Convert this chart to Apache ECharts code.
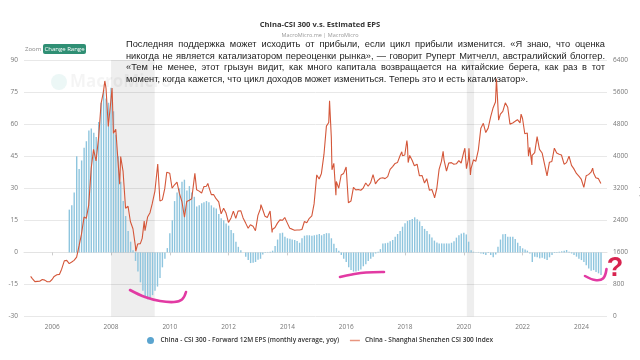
<!DOCTYPE html>
<html><head><meta charset="utf-8">
<script src="https://cdn.jsdelivr.net/npm/echarts@6/dist/echarts.min.js"></script>
<style>html,body{margin:0;padding:0;background:#fff}#c{width:640px;height:360px}</style>
</head><body><div id="c"></div>
<script>
// ---------- DATA ----------
const titleText = 'China-CSI 300 v.s. Estimated EPS';
const subtitleText = 'MacroMicro.me | MacroMicro';
const barName = 'China - CSI 300 - Forward 12M EPS (monthly average, yoy)';
const lineName = 'China - Shanghai Shenzhen CSI 300 Index';
const yearTicks = [2006, 2008, 2010, 2012, 2014, 2016, 2018, 2020, 2022, 2024];
const recessions = [['2008-01-01', '2009-06-28'], ['2020-02-07', '2020-05-08']];

// monthly EPS yoy (%), first month = 2006-08
const epsFirstMonth = '2006-08';
const epsYoY = [
  20, 22, 28, 45, 39,
  43, 49, 52, 57, 58, 56, 54, 61, 70, 76, 72, 70,
  77, 66, 55, 45, 33, 24, 17, 10, 5, 1, -4, -9,
  -14, -18, -21, -22, -21.5, -20, -18, -16, -12, -7, -3, 2,
  9, 15, 24, 28, 30, 33, 34, 29, 31, 28, 26, 21.5,
  22, 23, 23.5, 24, 23.5, 22, 21, 20.5, 18, 16, 15, 13.5,
  12.5, 10.5, 9, 5, 2.6, 1, 0, -2, -3.6, -5, -4.8, -4.5,
  -3.5, -3, -1, -0.3, 0.2, 0.3, 0.8, 3, 6, 9, 9.2, 7.3,
  6.6, 6.4, 6, 5.8, 5.3, 4.5, 6.6, 7.8, 8, 8, 7.8, 8,
  8.2, 8.6, 8, 8.6, 9, 9, 6.6, 4, 2, 0.8, -1.2, -3,
  -4.5, -7, -8.3, -9, -9, -8.6, -8, -6.5, -5.5, -4, -3, -2,
  -0.5, 0.3, 1.5, 4.2, 4.3, 4.5, 5.2, 5.8, 7.3, 8.6, 10, 12,
  13.6, 14.7, 15.2, 15.6, 16.4, 15.5, 14.5, 12.3, 11, 10, 8.5, 7,
  5.5, 4.6, 4.2, 4.2, 4.2, 4.2, 4.2, 4.5, 5.2, 6.9, 8, 8.8,
  9.2, 8.4, 5, 1, 0.3, -0.2, 0.2, -0.5, -0.8, -1.2, -0.3, -1.2,
  -2.3, -1, 2.6, 6, 8.5, 8.6, 7.3, 7.3, 7.3, 6.2, 4.5, 3,
  1.9, 1.4, 0.8, -0.5, -4.5, -2, -2.3, -2.8, -2.5, -3, -3.6, -2.3,
  -1.2, -0.3, -0.3, 0.3, 0.5, 0.8, 1.1, 0.3, -0.5, -1.2, -2, -3,
  -3.6, -4.5, -6, -7.5, -8.6, -8.3, -9.2, -9.8, -10.6
];

// CSI 300 index level
const csiDates = [
  '2005-04-08','2005-04-29','2005-05-31','2005-06-30','2005-07-29','2005-08-31','2005-09-30','2005-10-31','2005-11-30','2005-12-30',
  '2006-01-25','2006-02-28','2006-03-31','2006-04-28','2006-05-31','2006-06-30','2006-07-31','2006-08-31','2006-09-29','2006-10-31','2006-11-30','2006-12-29',
  '2007-01-31','2007-02-28','2007-03-30','2007-04-30','2007-05-29','2007-06-29','2007-07-31','2007-08-31','2007-09-28','2007-10-16','2007-10-31','2007-11-28','2007-12-28',
  '2008-01-14','2008-01-31','2008-02-29','2008-03-31','2008-04-18','2008-04-30','2008-05-30','2008-06-30','2008-07-31','2008-08-29','2008-09-30','2008-10-31','2008-11-04','2008-11-28','2008-12-31',
  '2009-01-23','2009-02-17','2009-02-27','2009-03-31','2009-04-30','2009-05-27','2009-06-30','2009-08-04','2009-08-31','2009-09-30','2009-10-30','2009-11-24','2009-12-31',
  '2010-01-29','2010-02-26','2010-03-31','2010-04-30','2010-05-31','2010-07-02','2010-07-30','2010-08-31','2010-09-30','2010-11-08','2010-11-30','2010-12-31',
  '2011-01-31','2011-02-28','2011-03-31','2011-04-18','2011-04-29','2011-05-31','2011-06-30','2011-07-29','2011-08-31','2011-09-30','2011-10-31','2011-11-30','2011-12-30',
  '2012-01-31','2012-02-29','2012-03-30','2012-04-27','2012-05-31','2012-06-29','2012-07-31','2012-08-31','2012-09-28','2012-10-31','2012-11-30','2012-12-31',
  '2013-01-31','2013-02-06','2013-02-28','2013-03-29','2013-04-26','2013-05-31','2013-06-25','2013-06-28','2013-07-31','2013-08-30','2013-09-30','2013-10-31','2013-11-29','2013-12-31',
  '2014-01-30','2014-02-28','2014-03-31','2014-04-30','2014-05-30','2014-06-30','2014-07-31','2014-08-29','2014-09-30','2014-10-31','2014-11-28','2014-12-31',
  '2015-01-30','2015-02-27','2015-03-31','2015-04-30','2015-05-29','2015-06-08','2015-06-30','2015-07-08','2015-07-31','2015-08-26','2015-08-31','2015-09-30','2015-10-30','2015-11-30','2015-12-31',
  '2016-01-28','2016-02-29','2016-03-31','2016-04-29','2016-05-31','2016-06-30','2016-07-29','2016-08-31','2016-09-30','2016-10-31','2016-11-30','2016-12-30',
  '2017-01-26','2017-02-28','2017-03-31','2017-04-28','2017-05-31','2017-06-30','2017-07-31','2017-08-31','2017-09-29','2017-10-31','2017-11-22','2017-11-30','2017-12-29',
  '2018-01-24','2018-01-31','2018-02-09','2018-02-28','2018-03-30','2018-04-27','2018-05-31','2018-06-29','2018-07-31','2018-08-31','2018-09-28','2018-10-31','2018-11-30','2018-12-28',
  '2019-01-03','2019-01-31','2019-02-28','2019-03-29','2019-04-19','2019-04-30','2019-05-31','2019-06-28','2019-07-31','2019-08-30','2019-09-30','2019-10-31','2019-11-29','2019-12-31',
  '2020-01-14','2020-02-03','2020-02-28','2020-03-05','2020-03-23','2020-03-31','2020-04-30','2020-05-29','2020-06-30','2020-07-31','2020-08-31','2020-09-30','2020-10-30','2020-11-30','2020-12-31',
  '2021-01-29','2021-02-10','2021-02-26','2021-03-09','2021-03-31','2021-04-30','2021-05-31','2021-06-30','2021-07-28','2021-08-31','2021-09-30','2021-10-29','2021-11-30','2021-12-13','2021-12-31',
  '2022-01-28','2022-02-28','2022-03-15','2022-03-31','2022-04-26','2022-04-29','2022-05-31','2022-06-30','2022-07-29','2022-08-31','2022-09-30','2022-10-31','2022-11-30','2022-12-30',
  '2023-01-30','2023-02-28','2023-03-31','2023-04-28','2023-05-31','2023-06-30','2023-07-31','2023-08-31','2023-09-28','2023-10-31','2023-11-30','2023-12-29',
  '2024-01-31','2024-02-05','2024-02-29','2024-03-29','2024-04-30','2024-05-20','2024-05-31','2024-06-28','2024-07-31','2024-08-30'
];
const csiValues = [
  1000, 946, 870, 876, 880, 925, 908, 867, 866, 923,
  1000, 1040, 1050, 1180, 1390, 1400, 1320, 1360, 1400, 1480, 1760, 2041,
  2480, 2450, 2780, 3700, 4170, 3880, 4470, 5320, 5600, 5877, 5690, 4740, 5340,
  5700, 4570, 4670, 3790, 3300, 3990, 3620, 2700, 2750, 2370, 2190, 1750, 1627, 1810, 1818,
  1950, 2380, 2140, 2480, 2590, 2810, 3130, 3803, 2880, 2910, 3190, 3600, 3575,
  3200, 3280, 3350, 3070, 2870, 2480, 2870, 2900, 2940, 3570, 3160, 3128,
  3080, 3240, 3250, 3320, 3240, 3040, 3040, 2940, 2860, 2560, 2700, 2580, 2346,
  2460, 2630, 2450, 2630, 2640, 2460, 2330, 2200, 2290, 2250, 2140, 2522,
  2690, 2790, 2670, 2500, 2470, 2630, 2100, 2170, 2220, 2330, 2410, 2400, 2470, 2330,
  2200, 2180, 2150, 2160, 2160, 2170, 2370, 2340, 2450, 2510, 2810, 3533,
  3430, 3570, 4050, 4750, 4840, 5380, 4470, 3660, 3820, 3025, 3370, 3200, 3530, 3570, 3730,
  2840, 2880, 3220, 3160, 3170, 3150, 3200, 3330, 3250, 3340, 3540, 3310,
  3390, 3450, 3460, 3440, 3490, 3670, 3740, 3820, 3840, 4010, 4110, 4010, 4030,
  4390, 4280, 3840, 4020, 3900, 3760, 3800, 3510, 3520, 3330, 3440, 3150, 3170, 3010,
  2960, 3200, 3670, 3870, 4120, 3910, 3630, 3830, 3840, 3800, 3810, 3890, 3830, 4100,
  4200, 3690, 3940, 4200, 3530, 3690, 3910, 3870, 4160, 4700, 4820, 4590, 4700, 4980, 5210,
  5350, 5930, 5340, 4900, 5050, 5120, 5330, 5220, 4800, 4830, 4870, 4910, 4830, 5050, 4940,
  4560, 4580, 4000, 4220, 3780, 4020, 4090, 4490, 4170, 4080, 3800, 3510, 3850, 3870,
  4200, 4080, 4050, 4030, 3800, 3840, 4000, 3770, 3690, 3570, 3500, 3430,
  3220, 3180, 3510, 3540, 3600, 3700, 3580, 3460, 3440, 3321
];

const quoteLines = [
  'Последняя поддержка может исходить от прибыли, если цикл прибыли изменится. «Я знаю, что оценка',
  'никогда не является катализатором переоценки рынка», — говорит Руперт Митчелл, австралийский блоггер.',
  '«Тем не менее, этот грызун видит, как много капитала возвращается на китайские берега, как раз в тот',
  'момент, когда кажется, что цикл доходов может измениться. Теперь это и есть катализатор».'
];

// ---------- HELPERS ----------
function dateToYear(s) {
  const p = s.split('-').map(Number);
  const d = Date.UTC(p[0], p[1] - 1, p[2] || 1);
  const a = Date.UTC(p[0], 0, 1), b = Date.UTC(p[0] + 1, 0, 1);
  return p[0] + (d - a) / (b - a);
}
const [fy, fm] = epsFirstMonth.split('-').map(Number);
const barData = epsYoY.map((v, i) => {
  const m = fm - 1 + i;
  const y = fy + Math.floor(m / 12);
  const mm = (m % 12) + 1;
  return [dateToYear(y + '-' + String(mm).padStart(2, '0') + '-01'), v];
});
const lineData = csiDates.map((d, i) => [dateToYear(d), csiValues[i]]);

// ---------- GRAPHICS (quote text, justified) ----------
const FONT_Q = '"Liberation Sans", Arial, sans-serif';
const graphics = [];
const qLeft = 126, qRight = 605, qTop = 44.5, qLineH = 11.5;
const mctx = document.createElement('canvas').getContext('2d');
function measure(t, size) { mctx.font = size + 'px ' + FONT_Q; return mctx.measureText(t).width; }
let qSize = 10.2;
quoteLines.slice(0, 3).forEach(t => {
  const w = measure(t, 10);
  qSize = Math.min(qSize, 10 * (qRight - qLeft) * 0.985 / w);
});
quoteLines.forEach((t, i) => {
  const words = t.split(' ');
  const widths = words.map(w => measure(w, qSize));
  const total = widths.reduce((a, b) => a + b, 0);
  const justify = i < quoteLines.length - 1;
  const gap = justify ? (qRight - qLeft - total) / (words.length - 1) : measure(' ', qSize);
  let x = qLeft;
  words.forEach((w, j) => {
    graphics.push({ type: 'text', x: x, y: qTop + i * qLineH, z: 100,
      style: { text: w, fontSize: qSize, fontFamily: FONT_Q, fill: '#222', verticalAlign: 'middle' } });
    x += widths[j] + gap;
  });
});
graphics.push({ type: 'text', x: 25, y: 49, style: { text: 'Zoom', fontSize: 6, fontFamily: 'Open Sans', fill: '#888', verticalAlign: 'middle' } });
graphics.push({ type: 'rect', shape: { x: 43, y: 44, width: 43, height: 10, r: 2 }, style: { fill: '#2f8f74' } });
graphics.push({ type: 'text', x: 64.5, y: 49, style: { text: 'Change Range', fontSize: 6, fontFamily: 'Open Sans', fill: '#fff', align: 'center', verticalAlign: 'middle' } });
// watermark
graphics.push({ type: 'circle', shape: { cx: 59, cy: 82, r: 8 }, style: { fill: 'rgba(120,200,190,0.14)' }, z: -1 });
graphics.push({ type: 'text', x: 70, y: 82, z: -1, style: { text: 'MacroMicro', fontSize: 17, fontFamily: 'Open Sans', fontWeight: 'bold', fill: 'rgba(0,0,0,0.045)', verticalAlign: 'middle' } });
// hand-drawn marks
const pen = { stroke: '#e23aa3', lineWidth: 2.6, fill: null, lineCap: 'round', lineJoin: 'round' };
graphics.push({ type: 'polyline', z: 90, shape: { points: [[130, 290], [145, 297], [160, 301], [174, 302], [182, 299.5], [186, 292]], smooth: 0.4 }, style: pen });
graphics.push({ type: 'polyline', z: 90, shape: { points: [[340, 277], [352, 274.5], [366, 272.5], [384, 272]], smooth: 0.4 }, style: pen });
graphics.push({ type: 'polyline', z: 90, shape: { points: [[585, 276], [595, 280], [603, 278.5], [606.5, 269]], smooth: 0.4 }, style: pen });
graphics.push({ type: 'text', x: 615, y: 269, z: 90, style: { text: '?', fontSize: 27, fontWeight: 'bold', fontFamily: FONT_Q, fill: '#d8234f', align: 'center', verticalAlign: 'middle' } });

const axisFont = { fontSize: 6.5, color: '#777', fontFamily: 'Open Sans' };
const BAR_COLOR = '#8ec5de';

const option = {
  animation: false,
  backgroundColor: '#fff',
  title: {
    text: titleText, subtext: subtitleText, left: 'center', top: 16, itemGap: 3,
    textStyle: { fontSize: 7.6, fontWeight: 'bold', color: '#333', fontFamily: 'Open Sans' },
    subtextStyle: { fontSize: 5.5, color: '#999', fontFamily: 'Open Sans' }
  },
  legend: {
    bottom: 11, left: 'center', itemGap: 10, itemWidth: 10, itemHeight: 7,
    textStyle: { fontSize: 6.5, fontWeight: 600, color: '#333', fontFamily: 'Open Sans' },
    data: [
      { name: barName, icon: 'circle', itemStyle: { color: '#5aa4cf' } },
      { name: lineName, itemStyle: { opacity: 0 }, lineStyle: { color: '#e8957f', width: 1.5 } }
    ]
  },
  grid: { left: 24, right: 33, top: 60, bottom: 43.5, containLabel: false, outerBoundsMode: 'none' },
  xAxis: {
    type: 'value', min: 2005.04, max: 2024.87,
    axisLine: { show: true, lineStyle: { color: '#e3e3e3' } },
    axisTick: { show: true, customValues: yearTicks, length: 3, lineStyle: { color: '#ccc' } },
    axisLabel: Object.assign({ customValues: yearTicks, margin: 7, formatter: v => String(Math.round(v)) }, axisFont),
    splitLine: { show: false }
  },
  yAxis: [
    {
      type: 'value', min: -30, max: 90, interval: 15,
      name: 'Percent, YoY', nameLocation: 'middle', nameGap: 17,
      nameTextStyle: { fontSize: 6.5, color: '#888', fontFamily: 'Open Sans' },
      axisLine: { show: false }, axisTick: { show: false },
      axisLabel: Object.assign({ margin: 6, formatter: v => String(v) }, axisFont),
      splitLine: { lineStyle: { color: '#e8e8e8' } }
    },
    {
      type: 'value', min: 0, max: 6400, interval: 800, position: 'right',
      name: 'Index', nameLocation: 'middle', nameGap: 26,
      nameTextStyle: { fontSize: 6.5, color: '#888', fontFamily: 'Open Sans' },
      axisLine: { show: false }, axisTick: { show: false },
      axisLabel: Object.assign({ margin: 6, formatter: v => String(v) }, axisFont),
      splitLine: { show: false }
    }
  ],
  series: [
    {
      name: barName, type: 'custom', yAxisIndex: 0, data: barData, z: 2,
      itemStyle: { color: BAR_COLOR },
      encode: { x: 0, y: 1 },
      renderItem: (params, api) => {
        const x = api.value(0), v = api.value(1);
        const p0 = api.coord([x, 0]), p1 = api.coord([x, v]);
        return { type: 'rect',
          shape: { x: p0[0] - 0.7, y: Math.min(p0[1], p1[1]), width: 1.4, height: Math.abs(p1[1] - p0[1]) },
          style: { fill: BAR_COLOR } };
      },
      markArea: {
        silent: true, itemStyle: { color: 'rgba(0,0,0,0.065)' },
        data: recessions.map(r => [{ xAxis: dateToYear(r[0]) }, { xAxis: dateToYear(r[1]) }])
      }
    },
    {
      name: lineName, type: 'line', yAxisIndex: 1, data: lineData, symbol: 'none', showSymbol: false,
      lineStyle: { width: 1.1, color: '#d4573a' }, itemStyle: { color: '#d4573a' }, z: 3
    }
  ],
  graphic: graphics
};
const chart = echarts.init(document.getElementById('c'), null, { renderer: 'canvas' });
chart.setOption(option);
</script></body></html>
